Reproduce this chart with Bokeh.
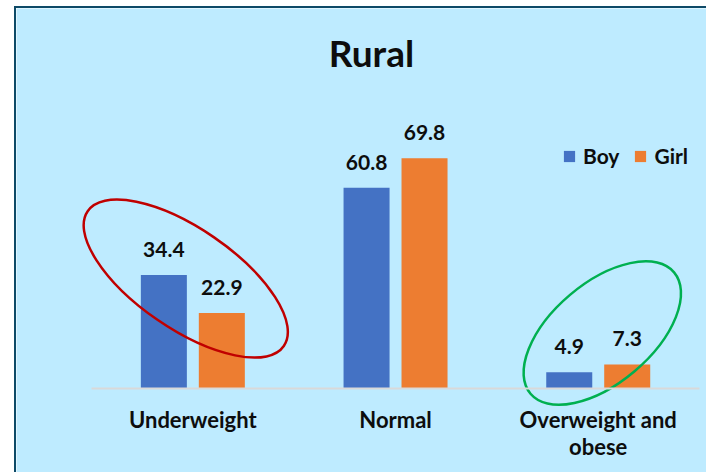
from bokeh.plotting import figure
from bokeh.models import (ColumnDataSource, Range1d, Legend, LegendItem,
                          Label, LabelSet, FixedTicker)
from bokeh.core.properties import value
from bokeh.transform import dodge
from bokeh.embed import file_html
from bokeh.resources import INLINE

# ---- data ----
categories = ["Underweight", "Normal", "Overweight and\nobese"]
boy = [34.4, 60.8, 4.9]
girl = [22.9, 69.8, 7.3]
series_names = ["Boy", "Girl"]
title_text = "Rural"

# ---- styles ----
BG = "#BEEBFF"
BORDER = "#0E4A67"
BLUE = "#4472C4"
ORANGE = "#ED7D31"
TXT = "#0D0D0D"
FONT = "Lato"

n = len(categories)
centers = [i + 0.5 for i in range(n)]

src = ColumnDataSource(dict(
    xc=centers,
    boy=boy,
    girl=girl,
    boy_lbl=[f"{v:.1f}" for v in boy],
    girl_lbl=[f"{v:.1f}" for v in girl],
))

p = figure(x_range=Range1d(-0.370, n + 0.044),
           y_range=Range1d(-26.06, 115.15),
           width=692, height=466,
           output_backend="svg", toolbar_location=None,
           min_border=0,
           background_fill_color=BG, border_fill_color=BG,
           outline_line_color=None)
p.margin = (6, 0, 0, 14)
p.styles = {"border-top": f"2px solid {BORDER}", "border-left": f"2px solid {BORDER}"}

off = 0.143
bw = 0.227
r_boy = p.vbar(x=dodge("xc", -off), top="boy", width=bw,
               source=src, fill_color=BLUE, line_color=None)
r_girl = p.vbar(x=dodge("xc", off), top="girl", width=bw,
                source=src, fill_color=ORANGE, line_color=None)

for col, lbl, o in (("boy", "boy_lbl", -off), ("girl", "girl_lbl", off)):
    ls = LabelSet(x=dodge("xc", o), y=col, text=lbl, source=src,
                  y_offset=18, text_align="center", text_baseline="alphabetic",
                  text_font=value(FONT), text_font_style="bold", text_font_size="21px",
                  text_color=TXT)
    p.add_layout(ls)

# highlight ellipses (annotations)
p.ellipse(x=centers[0] - 0.035, y=33.3, width=238, height=100,
          angle=-0.602, width_units="screen", height_units="screen",
          fill_alpha=0, line_color="#C00000", line_width=2.5)
p.ellipse(x=centers[2] + 0.02, y=16.8, width=188, height=100,
          angle=0.702, width_units="screen", height_units="screen",
          fill_alpha=0, line_color="#00B050", line_width=2.5)

# title
p.add_layout(Label(x=1.381, y=101.8, text=title_text,
                   text_align="center", text_baseline="alphabetic",
                   text_font=FONT, text_font_style="bold", text_font_size="37px",
                   text_color=TXT))

# legend
legend = Legend(items=[LegendItem(label=series_names[0], renderers=[r_boy]),
                       LegendItem(label=series_names[1], renderers=[r_girl])],
                orientation="horizontal", location=(546, 306),
                glyph_width=14, glyph_height=14, label_standoff=7, spacing=14,
                padding=0, margin=0, border_line_color=None,
                background_fill_alpha=0,
                label_text_font=FONT, label_text_font_style="bold",
                label_text_font_size="21px", label_text_color=TXT)
p.add_layout(legend, "center")

p.yaxis.visible = False
p.xgrid.visible = False
p.ygrid.visible = False
ax = p.xaxis[0]
ax.fixed_location = 0
ax.bounds = (0, n)
ax.ticker = FixedTicker(ticks=centers)
ax.major_label_overrides = {c: lab for c, lab in zip(centers, categories)}
ax.axis_line_color = "#D9D9D9"
ax.axis_line_width = 2
ax.major_tick_line_color = None
ax.minor_tick_line_color = None
ax.major_label_standoff = 11
ax.major_label_text_font = FONT
ax.major_label_text_font_style = "bold"
ax.major_label_text_font_size = "22px"
ax.major_label_text_color = TXT
ax.major_label_text_line_height = 1.0

open("out.html", "w").write(file_html(p, INLINE))
